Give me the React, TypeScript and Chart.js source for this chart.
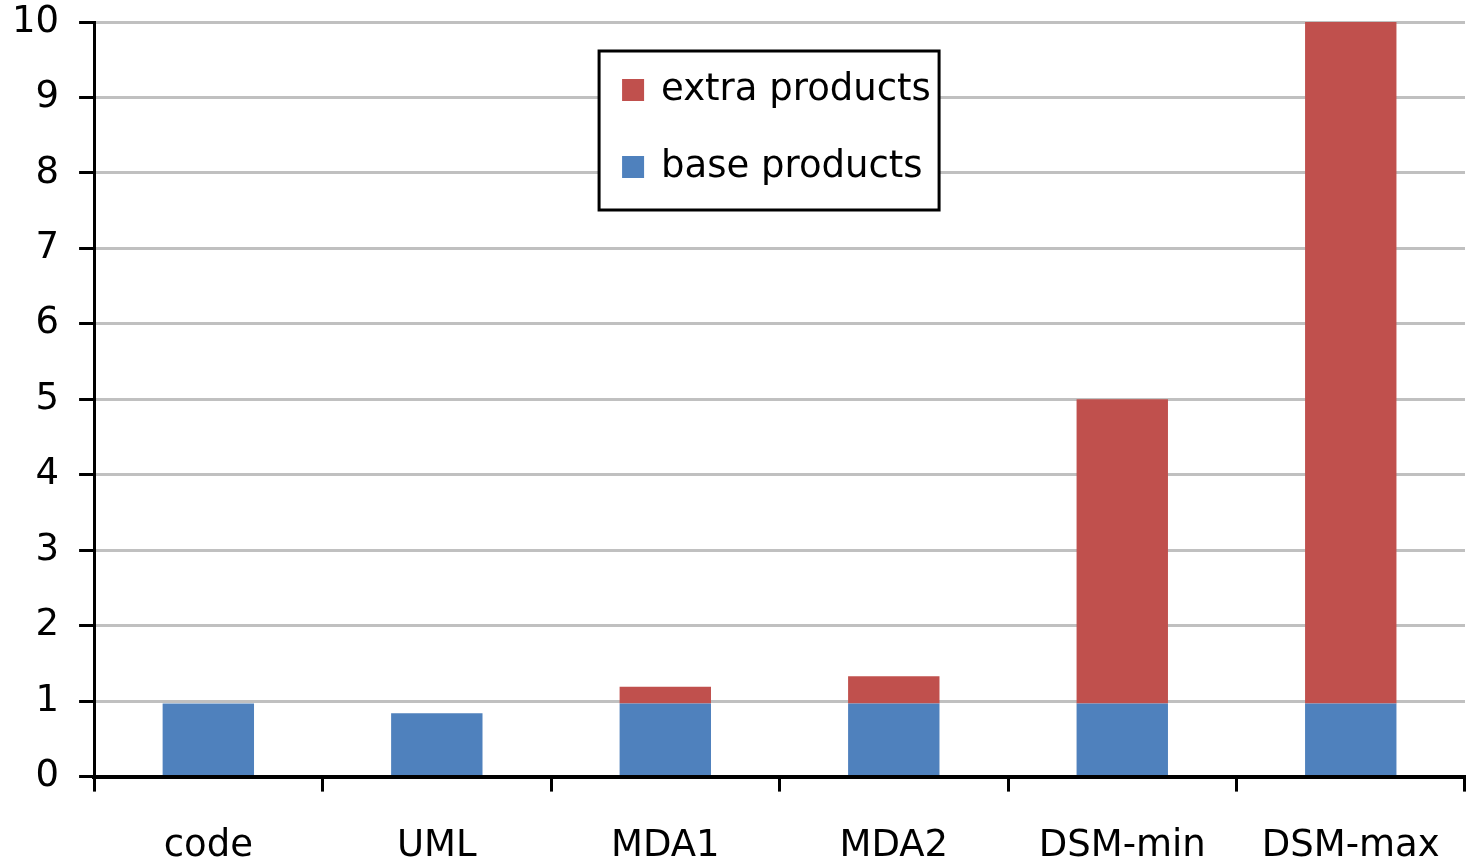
import React, { useEffect, useRef } from "react";
import { Chart, registerables } from "chart.js";

Chart.register(...registerables);

const categories = ["code", "UML", "MDA1", "MDA2", "DSM-min", "DSM-max"];
const baseProducts = [0.97, 0.84, 0.97, 0.97, 0.97, 0.97];
const extraProducts = [0, 0, 0.22, 0.36, 4.03, 9.03];
const yTicks = [0, 1, 2, 3, 4, 5, 6, 7, 8, 9, 10];

const FONT = "'DejaVu Sans', Verdana, sans-serif";

const boxLegend = {
  id: "boxLegend",
  afterDraw(chart: any) {
    const ctx = chart.ctx;
    const ca = chart.chartArea;
    const left = ca.left + 505;
    const top = ca.top + 29;
    const w = 340;
    const h = 159;
    ctx.save();
    ctx.fillStyle = "#ffffff";
    ctx.fillRect(left, top, w, h);
    ctx.strokeStyle = "#000000";
    ctx.lineWidth = 3;
    ctx.strokeRect(left, top, w, h);
    const items = [...chart.data.datasets].reverse();
    ctx.font = `37px ${FONT}`;
    ctx.textBaseline = "middle";
    ctx.textAlign = "left";
    items.forEach((ds: any, i: number) => {
      const cy = top + 39 + i * 77;
      ctx.fillStyle = ds.backgroundColor;
      ctx.fillRect(left + 23, cy - 11, 22, 22);
      ctx.fillStyle = "#000000";
      ctx.fillText(ds.label, left + 62, cy);
    });
    ctx.restore();
  },
};

export default function App() {
  const ref = useRef<HTMLCanvasElement | null>(null);
  useEffect(() => {
    document.body.style.margin = "0";
    if (!ref.current) return;
    const chart = new Chart(ref.current, {
      type: "bar",
      data: {
        labels: categories,
        datasets: [
          {
            label: "base products",
            data: baseProducts,
            backgroundColor: "#4F81BD",
            categoryPercentage: 1,
            barPercentage: 0.4,
          },
          {
            label: "extra products",
            data: extraProducts,
            backgroundColor: "#C0504D",
            categoryPercentage: 1,
            barPercentage: 0.4,
          },
        ],
      },
      options: {
        animation: false,
        responsive: false,
        maintainAspectRatio: false,
        layout: { padding: { left: -8, right: 1, top: 22, bottom: -39 } },
        plugins: {
          legend: { display: false },
          tooltip: { enabled: false },
        },
        scales: {
          x: {
            stacked: true,
            afterFit: (s: any) => {
              s.paddingLeft = 0;
              s.paddingRight = 0;
            },
            grid: {
              drawOnChartArea: false,
              drawTicks: true,
              tickLength: 15,
              tickColor: "#000000",
              tickWidth: 3,
              offset: true,
            },
            border: { color: "#000000", width: 4 },
            ticks: {
              color: "#000000",
              font: { family: FONT, size: 37 },
              padding: 33,
            },
          },
          y: {
            stacked: true,
            min: 0,
            max: 10,
            afterFit: (s: any) => {
              s.paddingTop = 0;
              s.paddingBottom = 0;
            },
            afterBuildTicks: (axis: any) => {
              axis.ticks = yTicks.map((v) => ({ value: v }));
            },
            grid: {
              color: "#c0c0c0",
              lineWidth: 3,
              drawTicks: true,
              tickLength: 15,
              tickColor: "#000000",
              tickWidth: 3,
            },
            border: { color: "#000000", width: 3 },
            ticks: {
              color: "#000000",
              font: { family: FONT, size: 37 },
              padding: 20,
            },
          },
        },
      },
      plugins: [boxLegend],
    });
    return () => chart.destroy();
  }, []);
  return (
    <div style={{ width: 1466, height: 863 }}>
      <canvas ref={ref} width={1466} height={863} style={{ width: 1466, height: 863 }} />
    </div>
  );
}
